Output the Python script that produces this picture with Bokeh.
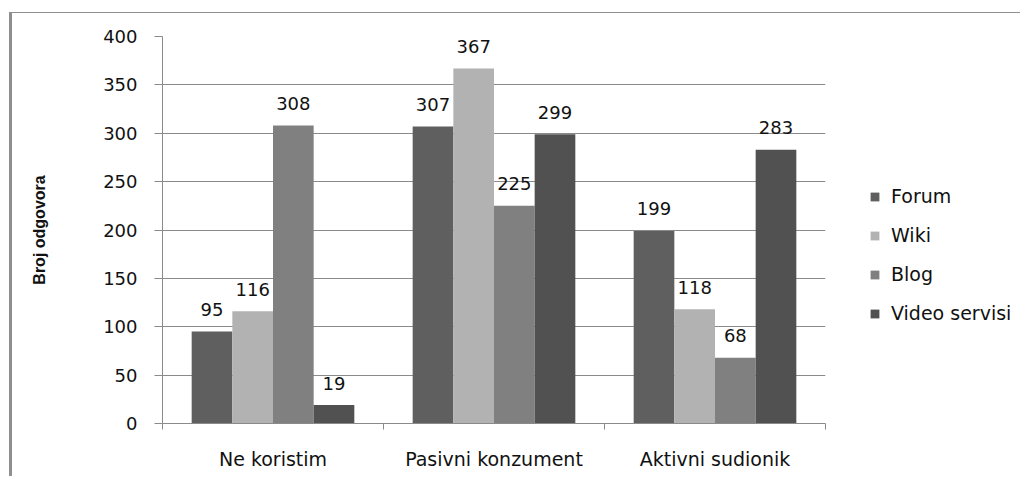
from bokeh.plotting import figure
from bokeh.layouts import row
from bokeh.models import (FactorRange, Range1d, LinearAxis, CategoricalAxis, FixedTicker,
                          SingleIntervalTicker, Legend, LegendItem, ColumnDataSource)
from bokeh.transform import dodge
from bokeh.core.properties import value
from bokeh.embed import file_html
from bokeh.resources import INLINE

categories = ["Ne koristim", "Pasivni konzument", "Aktivni sudionik"]
series = ["Forum", "Wiki", "Blog", "Video servisi"]
forum = [95, 307, 199]
wiki = [116, 367, 118]
blog = [308, 225, 68]
video = [19, 299, 283]
colors = ["#5f5f5f", "#b2b2b2", "#808080", "#515151"]

GRAY = "#8a8a8a"
TXT = "#111111"
FONT = "DejaVu Sans"

src = ColumnDataSource(dict(
    cat=categories,
    s0=forum, s1=wiki, s2=blog, s3=video,
    t0=[str(v) for v in forum], t1=[str(v) for v in wiki],
    t2=[str(v) for v in blog], t3=[str(v) for v in video],
))

p = figure(x_range=FactorRange(*categories), y_range=Range1d(0, 400),
           width=818, height=463, output_backend="svg", toolbar_location=None,
           x_axis_location=None, y_axis_location="left",
           min_border_left=150, min_border_right=5, min_border_top=23, min_border_bottom=53)
p.outline_line_color = None
p.background_fill_color = "white"
p.border_fill_color = "white"

# y axis
ya = p.yaxis[0]
ya.ticker = SingleIntervalTicker(interval=50)
ya.axis_line_color = GRAY
ya.major_tick_line_color = GRAY
ya.major_tick_out = 8
ya.major_tick_in = 0
ya.minor_tick_line_color = None
ya.major_label_standoff = 17
ya.major_label_text_font = FONT
ya.major_label_text_font_size = "18px"
ya.major_label_text_color = TXT
ya.axis_label = "Broj odgovora"
ya.axis_label_text_font = "Liberation Sans"
ya.axis_label_text_font_style = "bold"
ya.axis_label_text_font_size = "16px"
ya.axis_label_text_color = TXT
ya.axis_label_standoff = 52

p.ygrid.grid_line_color = GRAY
p.ygrid.grid_line_width = 1
p.xgrid.visible = False

# x axis: ticks at category boundaries + category labels
bounds = list(range(len(categories) + 1))
tick_axis = LinearAxis(ticker=FixedTicker(ticks=bounds),
                       major_label_overrides={b: "" for b in bounds},
                       major_label_text_font_size="1px", major_label_standoff=0,
                       major_tick_out=6, major_tick_in=0, minor_tick_line_color=None,
                       axis_line_color=GRAY, major_tick_line_color=GRAY)
p.add_layout(tick_axis, "below")
cat_axis = CategoricalAxis(axis_line_color=None, major_tick_line_color=None, major_tick_out=0,
                           major_tick_in=0, major_label_standoff=18,
                           major_label_text_font=FONT, major_label_text_font_size="19px",
                           major_label_text_color=TXT)
p.add_layout(cat_axis, "below")

offsets = [-0.276, -0.092, 0.092, 0.276]
for i, (off, col) in enumerate(zip(offsets, colors)):
    p.vbar(x=dodge("cat", off, range=p.x_range), top="s%d" % i, width=0.184,
           source=src, fill_color=col, line_color=None)
    p.text(x=dodge("cat", off, range=p.x_range), y="s%d" % i, text="t%d" % i, source=src,
           text_font=value(FONT), text_font_size="18px", text_color=TXT,
           text_align="center", text_baseline="alphabetic", y_offset=-22)

# legend panel (proxy renderers lie outside its visible range)
pl = figure(width=190, height=463, output_backend="svg", toolbar_location=None,
            x_range=Range1d(0, 1), y_range=Range1d(0, 1),
            x_axis_location=None, y_axis_location=None,
            min_border_left=0, min_border_right=0, min_border_top=0, min_border_bottom=0)
pl.outline_line_color = None
pl.grid.visible = False
pl.background_fill_color = "white"
pl.border_fill_color = "white"
items = []
for i, (name, col) in enumerate(zip(series, colors)):
    r = pl.vbar(x="s%d" % i, top=0, width=0, source=src, fill_color=col, line_color=None)
    items.append(LegendItem(label=name, renderers=[r]))
legend = Legend(items=items, location=(39, 99), orientation="vertical",
                glyph_width=11, glyph_height=11, label_height=20, spacing=17,
                padding=0, margin=0, border_line_color=None, background_fill_alpha=0,
                label_text_font=FONT, label_text_font_size="19px", label_text_color=TXT,
                label_standoff=11)
pl.add_layout(legend)

layout = row(p, pl, spacing=0)
layout.styles = {"border-left": "3px solid #8f8f8f", "border-top": "1px solid #8f8f8f",
                 "margin-top": "12px", "margin-left": "9px"}

open("out.html", "w").write(file_html(layout, INLINE))
